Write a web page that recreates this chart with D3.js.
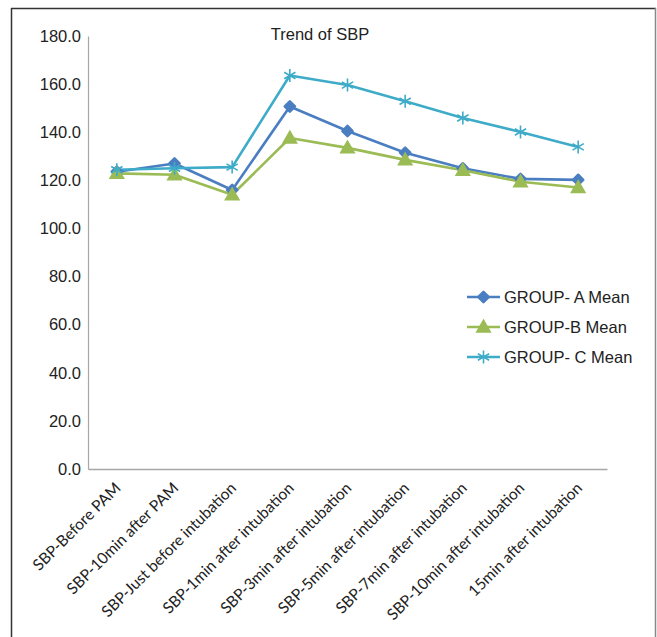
<!DOCTYPE html>
<html>
<head>
<meta charset="utf-8">
<script src="https://cdn.jsdelivr.net/npm/d3@7"></script>
<style>
  html, body { margin: 0; padding: 0; background: #fff; }
  svg { display: block; }
</style>
</head>
<body>
<svg id="chart" width="657" height="637"></svg>
<script>
// Time points of the measurement
const categories = [
  "SBP-Before PAM",
  "SBP-10min after PAM",
  "SBP-Just before intubation",
  "SBP-1min after intubation",
  "SBP-3min after intubation",
  "SBP-5min after intubation",
  "SBP-7min after intubation",
  "SBP-10min after intubation",
  "15min after intubation"
];

// Mean systolic blood pressure per group
const groupA = [123.6, 127.0, 116.0, 150.7, 140.5, 131.5, 125.0, 120.6, 120.2];
const groupB = [122.9, 122.3, 114.0, 137.6, 133.5, 128.5, 124.2, 119.4, 117.0];
const groupC = [124.4, 125.0, 125.5, 163.6, 159.6, 152.9, 145.9, 140.1, 133.9];

const seriesNames = ["GROUP- A Mean", "GROUP-B Mean", "GROUP- C Mean"];
const yTicks = [0, 20, 40, 60, 80, 100, 120, 140, 160, 180];
const chartTitle = "Trend of SBP";

const series = [
  { name: seriesNames[0], values: groupA, color: "#4a7ec1", marker: "diamond" },
  { name: seriesNames[1], values: groupB, color: "#9bbb55", marker: "triangle" },
  { name: seriesNames[2], values: groupC, color: "#3eabc8", marker: "star" }
];

const svg = d3.select("#chart");

// outer frame
svg.append("line").attr("x1", 11.5).attr("x2", 11.5).attr("y1", 8).attr("y2", 637)
  .attr("stroke", "#333").attr("stroke-width", 1.5);
svg.append("line").attr("x1", 11).attr("x2", 656).attr("y1", 8.5).attr("y2", 8.5)
  .attr("stroke", "#333").attr("stroke-width", 1.5);
svg.append("line").attr("x1", 655.5).attr("x2", 655.5).attr("y1", 8).attr("y2", 637)
  .attr("stroke", "#888").attr("stroke-width", 1.5);

const plot = { left: 88, right: 607, top: 36, bottom: 469 };

const x = d3.scaleBand().domain(categories).range([plot.left, plot.right]);
const y = d3.scaleLinear().domain([0, 180]).range([plot.bottom, plot.top]);
const cx = d => x(d) + x.bandwidth() / 2;

// y axis
const yAxis = svg.append("g")
  .attr("transform", `translate(${plot.left},0)`)
  .call(d3.axisLeft(y).tickValues(yTicks).tickFormat(d3.format(".1f")).tickSize(0).tickPadding(7));
yAxis.select(".domain").attr("stroke", "#a6a6a6").attr("stroke-width", 1.2);
yAxis.selectAll("text")
  .attr("font-family", "'Liberation Sans', Arial, sans-serif")
  .attr("font-size", 16.5).attr("fill", "#222");

// x axis
const xAxis = svg.append("g")
  .attr("transform", `translate(0,${plot.bottom})`)
  .call(d3.axisBottom(x).tickSize(0).tickPadding(0));
xAxis.select(".domain").attr("stroke", "#a6a6a6").attr("stroke-width", 1.5);
xAxis.selectAll("text")
  .attr("font-family", "Lato, 'Open Sans', sans-serif")
  .attr("font-size", 15.6).attr("fill", "#222")
  .attr("text-anchor", "end")
  .attr("dy", 0)
  .attr("transform", "translate(5,20) rotate(-45)");

// title
svg.append("text")
  .attr("x", 320).attr("y", 40)
  .attr("text-anchor", "middle")
  .attr("font-family", "'Liberation Sans', Arial, sans-serif")
  .attr("font-size", 16.5).attr("fill", "#222")
  .text(chartTitle);

const line = d3.line().x((d, i) => cx(categories[i])).y(d => y(d));

function drawMarker(g, type, color, px, py) {
  if (type === "diamond") {
    g.append("path")
      .attr("d", d3.symbol(d3.symbolSquare, 52)())
      .attr("transform", `translate(${px},${py}) rotate(45)`)
      .attr("fill", color).attr("stroke", color).attr("stroke-width", 2.5)
      .attr("stroke-linejoin", "round");
  } else if (type === "triangle") {
    g.append("path")
      .attr("d", d3.symbol(d3.symbolTriangle, 80)())
      .attr("transform", `translate(${px},${py + 1})`)
      .attr("fill", color).attr("stroke", color).attr("stroke-width", 1.5);
  } else {
    const r = 6.5;
    const p = d3.path();
    [90, 30, -30].forEach(a => {
      const t = a * Math.PI / 180;
      p.moveTo(px + r * Math.cos(t), py - r * Math.sin(t));
      p.lineTo(px - r * Math.cos(t), py + r * Math.sin(t));
    });
    g.append("path").attr("d", p.toString())
      .attr("stroke", color).attr("stroke-width", 1.6).attr("fill", "none");
  }
}

// series lines
series.forEach(s => {
  svg.append("path").datum(s.values)
    .attr("d", line)
    .attr("fill", "none")
    .attr("stroke", s.color)
    .attr("stroke-width", 2.6)
    .attr("stroke-linejoin", "round");
});

// series markers
series.forEach(s => {
  const g = svg.append("g");
  s.values.forEach((v, i) => drawMarker(g, s.marker, s.color, cx(categories[i]), y(v)));
});

// legend
const legend = svg.append("g");
series.forEach((s, i) => {
  const ly = 297 + i * 30;
  legend.append("line").attr("x1", 467).attr("x2", 500).attr("y1", ly).attr("y2", ly)
    .attr("stroke", s.color).attr("stroke-width", 2.6);
  drawMarker(legend, s.marker, s.color, 483.5, ly);
  legend.append("text")
    .attr("x", 504).attr("y", ly).attr("dy", "0.36em")
    .attr("font-family", "'Liberation Sans', Arial, sans-serif")
    .attr("font-size", 16.5).attr("fill", "#222")
    .text(s.name);
});
</script>
</body>
</html>
